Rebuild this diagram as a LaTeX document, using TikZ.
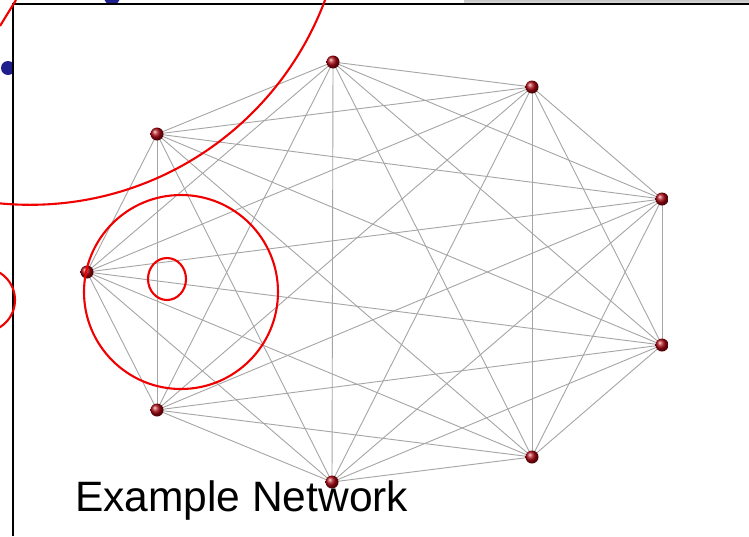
\documentclass[tikz,border=0pt]{standalone}
\usepackage{fontspec}
\setmainfont{Liberation Sans}
\pgfdeclarelayer{bg}
\pgfdeclarelayer{edges}
\pgfsetlayers{bg,edges,main}
\definecolor{ballred}{RGB}{170,8,18}
\definecolor{edgegray}{RGB}{165,165,165}
\definecolor{ringred}{RGB}{240,0,0}
\definecolor{dotblue}{RGB}{30,30,140}
\tikzset{
  vtx/.style={circle, inner sep=0pt, minimum size=13pt, shading=ball, ball color=ballred},
  edge/.style={draw=edgegray, line width=0.9pt},
  ring/.style={draw=ringred, line width=2.1pt},
  frameline/.style={draw=black, line width=2pt},
  title/.style={anchor=base west, inner sep=0pt, font=\fontsize{42.5}{43}\selectfont}
}
\begin{document}
\begin{tikzpicture}[x=1pt,y=-1pt]
\useasboundingbox (0,0) rectangle (749,536);
\clip (0,0) rectangle (749,536);
\begin{pgfonlayer}{bg}
\fill[white] (0,0) rectangle (749,536);
% background remnants outside the frame
\fill[dotblue] (8,68) circle (7);
\fill[dotblue] (112,-3) circle (8);
\shade[top color=gray!45, bottom color=gray!25] (464,0) rectangle (749,3.5);
\fill[gray!55] (21,530) circle (2);
% inner white panel
\fill[white] (13,4) rectangle (749,536);
\end{pgfonlayer}
\draw[frameline] (13,536) -- (13,4) -- (749,4);
% vertices
\node[vtx] (n1) at (333,62) {};
\node[vtx] (n2) at (532,87) {};
\node[vtx] (n3) at (662,199) {};
\node[vtx] (n4) at (662,345) {};
\node[vtx] (n5) at (532,457) {};
\node[vtx] (n6) at (332,482) {};
\node[vtx] (n7) at (157,410) {};
\node[vtx] (n8) at (87,272) {};
\node[vtx] (n9) at (157,134) {};
\begin{pgfonlayer}{edges}
\foreach \i in {1,...,8}{
  \pgfmathtruncatemacro\k{\i+1}
  \foreach \j in {\k,...,9}{
    \draw[edge] (n\i.center) -- (n\j.center);
  }
}
\end{pgfonlayer}
% title
\node[title] (lbl) at (75,511) {Example Network};
% red annotation rings
\draw[ring] (30,-110) circle (314.8);
\draw[ring] (-17,300) circle (32);
\draw[ring] (181,292) circle (97);
\draw[ring] (167,279) ellipse (19 and 21);
\draw[ring] (0,26) -- (16,0);
\end{tikzpicture}
\end{document}
